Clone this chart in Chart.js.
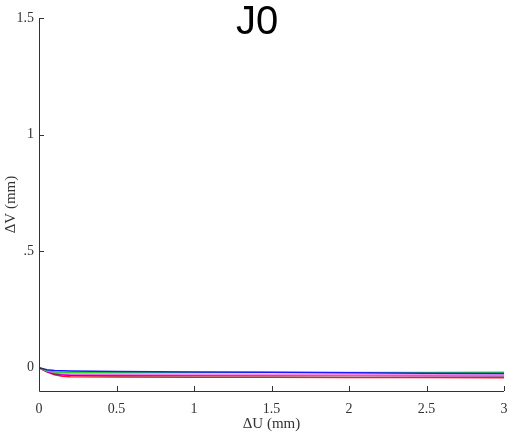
<!DOCTYPE html>
<html>
<head>
    <meta charset="UTF-8">
    <title>J0</title>
    <script src="https://cdn.jsdelivr.net/npm/chart.js"></script>
    <style>
        body { margin: 0; padding: 0; background: #fff; }
        #wrap { width: 510px; height: 435px; }
    </style>
</head>
<body>
    <div id="wrap"><canvas id="chart" width="510" height="435"></canvas></div>
    <script>
        // displacement steps (mm)
        const deltaU = [0, 0.05, 0.1, 0.15, 0.2, 0.5, 1, 1.5, 2, 2.5, 3];
        const blueV    = [0, -0.009, -0.012, -0.013, -0.014, -0.016, -0.018, -0.020, -0.022, -0.024, -0.025];
        const greenV   = [0, -0.013, -0.018, -0.020, -0.021, -0.021, -0.021, -0.021, -0.021, -0.021, -0.020];
        const pinkV    = [0, -0.012, -0.020, -0.024, -0.026, -0.027, -0.028, -0.029, -0.030, -0.030, -0.031];
        const magentaV = [0, -0.015, -0.024, -0.028, -0.030, -0.031, -0.032, -0.032, -0.032, -0.033, -0.033];
        const blackV   = [0, -0.016, -0.026, -0.030, -0.032, -0.033, -0.034, -0.034, -0.034, -0.034, -0.035];
        const redV     = [0, -0.018, -0.030, -0.037, -0.039, -0.040, -0.041, -0.041, -0.042, -0.042, -0.043];
        const yTicks = [0, 0.5, 1, 1.5];
        const yTickLabels = ['0', '.5', '1', '1.5'];
        const xTicks = [0, 0.5, 1, 1.5, 2, 2.5, 3];

        const serif = "'Liberation Serif', 'DejaVu Serif', serif";

        function pts(ys) {
            return deltaU.map((x, i) => ({ x: x, y: ys[i] }));
        }

        function line(label, ys, color) {
            return {
                label: label,
                data: pts(ys),
                borderColor: color,
                borderWidth: 1.5,
                pointRadius: 0,
                fill: false,
                tension: 0
            };
        }

        // ticks drawn inward, like the original
        const innerTicks = {
            id: 'innerTicks',
            afterDraw(chart) {
                const c = chart.ctx;
                const a = chart.chartArea;
                const xs = chart.scales.x, ys = chart.scales.y;
                c.save();
                c.strokeStyle = '#333';
                c.lineWidth = 1;
                c.beginPath();
                c.moveTo(a.left + 0.5, a.top);
                c.lineTo(a.left + 0.5, a.bottom + 0.5);
                c.lineTo(a.right, a.bottom + 0.5);
                xTicks.forEach(v => {
                    const px = Math.round(xs.getPixelForValue(v)) + 0.5;
                    c.moveTo(px, a.bottom);
                    c.lineTo(px, a.bottom - 5);
                });
                yTicks.forEach(v => {
                    const py = Math.round(ys.getPixelForValue(v)) + 0.5;
                    c.moveTo(a.left, py);
                    c.lineTo(a.left + 5, py);
                });
                c.stroke();
                // title
                c.fillStyle = '#000';
                c.font = "40px 'Liberation Sans', Arial, sans-serif";
                c.textAlign = 'center';
                c.textBaseline = 'middle';
                c.fillText('J0', 257, 23);
                c.restore();
            }
        };

        const ctx = document.getElementById('chart').getContext('2d');
        new Chart(ctx, {
            type: 'line',
            data: {
                datasets: [
                    line('blue', blueV, '#1a1aff'),
                    line('green', greenV, '#22dd22'),
                    line('pink', pinkV, '#ff88ee'),
                    line('magenta', magentaV, '#ee00ee'),
                    line('black', blackV, '#222222'),
                    line('red', redV, '#ff1133')
                ]
            },
            options: {
                responsive: false,
                animation: false,
                layout: { padding: { top: 18, right: 6, left: 2, bottom: 0 } },
                plugins: {
                    legend: { display: false },
                    tooltip: { enabled: false }
                },
                scales: {
                    x: {
                        type: 'linear',
                        min: 0,
                        max: 3,
                        border: { display: false },
                        grid: { display: false, drawTicks: false },
                        afterBuildTicks: s => { s.ticks = xTicks.map(v => ({ value: v })); },
                        afterFit: s => { s.height = 44; s.paddingLeft = 0; s.paddingRight = 0; },
                        ticks: {
                            color: '#333',
                            padding: 10,
                            maxRotation: 0,
                            font: { family: serif, size: 14 },
                            callback: v => String(v)
                        },
                        title: {
                            display: true,
                            text: 'ΔU (mm)',
                            color: '#333',
                            padding: { top: 0, bottom: 2 },
                            font: { family: serif, size: 15 }
                        }
                    },
                    y: {
                        min: -0.1,
                        max: 1.5,
                        border: { display: false },
                        grid: { display: false, drawTicks: false },
                        afterBuildTicks: s => { s.ticks = yTicks.map(v => ({ value: v })); },
                        afterFit: s => { s.width = 37; s.paddingTop = 0; s.paddingBottom = 0; },
                        ticks: {
                            color: '#333',
                            padding: 5,
                            font: { family: serif, size: 14 },
                            callback: v => yTickLabels[yTicks.indexOf(v)]
                        },
                        title: {
                            display: true,
                            text: 'ΔV (mm)',
                            color: '#333',
                            padding: { top: 0, bottom: 0 },
                            font: { family: serif, size: 15 }
                        }
                    }
                }
            },
            plugins: [innerTicks]
        });
    </script>
</body>
</html>
